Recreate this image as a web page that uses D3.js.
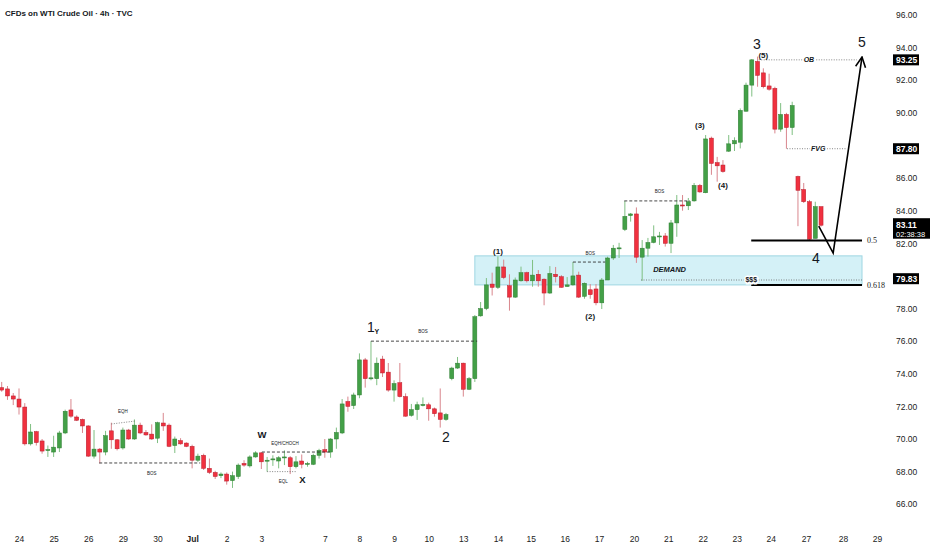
<!DOCTYPE html>
<html>
<head>
<meta charset="utf-8">
<script src="https://cdn.jsdelivr.net/npm/d3@7"></script>
<style>
  body { margin: 0; background: #fff; }
  svg { display: block; font-family: "Liberation Sans", Arial, sans-serif; }
</style>
</head>
<body>
<div id="chart"></div>
<script>
// 4h candles
var opens = [73.15,73.07,72.64,72.45,71.96,69.7,70.45,69.88,69.3,69.2,
  69.45,70.37,71.78,71.35,71.2,70.8,68.95,69.38,69.2,70.5,
  69.95,69.45,70.55,70.0,70.85,70.4,70.3,70.05,70.98,70.85,
  69.6,69.9,69.75,69.55,68.7,69.0,68.2,67.95,67.75,67.85,
  67.45,67.7,68.5,68.35,68.9,69.15,68.65,68.72,68.65,68.85,
  68.85,68.3,68.65,68.45,68.45,69.0,69.35,69.2,70.0,70.37,
  72.3,72.05,72.7,74.85,73.7,73.7,74.9,74.1,73.0,73.45,
  72.6,71.45,71.8,72.05,72.1,71.85,71.6,71.2,73.7,74.35,
  74.65,73.05,73.7,77.55,78.0,79.5,79.3,80.55,79.4,78.7,
  79.7,80.2,79.7,80.1,79.8,78.95,80.1,79.95,79.35,79.45,
  80.05,78.75,79.15,79.2,78.35,79.75,81.1,81.7,82.85,83.7,
  83.8,81.15,81.7,82.05,82.4,82.45,82.0,83.25,84.35,84.3,
  84.6,85.55,85.1,88.45,86.95,86.8,87.65,88.1,88.2,90.1,
  91.7,93.15,92.45,91.65,91.5,89.0,89.9,89.1,86.1,85.3,
  84.55,82.3,84.25];
var highs = [73.5,73.25,72.82,73.1,72.2,70.92,70.5,70.0,69.6,70.2,
  70.5,71.8,72.45,71.45,71.25,70.85,70.55,69.45,70.5,71.0,
  70.0,70.7,70.62,71.2,71.0,70.55,70.9,71.06,71.6,70.95,
  70.15,70.05,69.8,69.65,69.1,69.1,68.8,68.05,67.95,67.95,
  68.0,68.5,68.7,69.0,69.25,69.2,68.9,69.0,68.95,69.3,
  68.95,68.95,69.05,68.6,69.1,69.4,70.0,70.05,70.7,72.45,
  72.6,72.84,75.25,74.97,76.0,75.0,75.1,74.66,73.6,74.66,
  72.8,72.15,72.29,72.55,72.23,71.93,73.1,71.6,74.43,75.03,
  74.68,73.8,77.6,78.4,79.87,80.2,81.2,81.0,80.1,79.9,
  80.57,80.26,80.98,80.36,79.85,80.6,80.55,80.05,79.93,80.85,
  80.26,79.6,79.5,79.5,79.87,81.18,81.9,82.03,84.6,83.86,
  84.2,82.2,82.33,83.1,82.7,82.63,83.43,84.96,84.96,84.78,
  85.7,85.64,88.64,88.54,87.3,87.1,88.64,88.5,90.27,91.85,
  93.3,93.45,92.73,92.4,91.6,90.6,90.0,90.68,86.15,85.7,
  84.66,84.55,84.24];
var lows = [72.9,72.4,72.08,71.5,69.6,69.6,69.6,69.1,68.9,68.9,
  69.2,70.3,71.3,71.1,70.37,68.9,68.8,68.5,69.0,69.4,
  69.3,69.35,69.95,69.95,70.3,70.2,69.95,69.75,70.5,69.5,
  69.14,69.65,69.5,68.2,68.6,68.1,67.85,67.55,67.6,67.2,
  67.0,67.55,68.3,68.25,68.85,68.16,68.0,68.35,68.2,68.4,
  67.85,68.2,68.2,68.3,68.4,68.8,68.85,68.85,69.4,70.3,
  71.67,71.84,72.5,73.15,73.6,73.3,73.8,72.9,72.29,72.55,
  71.37,71.37,71.17,72.0,71.12,71.37,70.7,71.12,73.6,74.3,
  72.6,73.0,73.5,77.5,77.9,78.8,79.2,79.8,77.87,78.65,
  79.65,79.6,79.34,79.34,78.2,78.9,79.6,79.28,79.34,79.4,
  78.65,78.6,78.6,78.2,77.97,79.75,80.98,81.1,82.75,83.33,
  80.8,79.7,81.18,82.0,81.9,81.8,81.4,82.4,84.0,84.04,
  84.55,85.1,85.07,86.2,85.78,86.33,87.6,87.66,87.82,90.07,
  91.0,91.6,91.5,91.36,88.74,88.84,87.8,88.64,83.05,84.47,
  82.16,82.3,83.02];
var closes = [73.0,72.64,72.45,71.96,69.7,70.43,69.78,69.26,69.35,69.5,
  70.37,71.7,71.4,71.15,70.8,68.95,69.38,69.2,70.2,69.95,
  69.4,70.55,70.0,70.85,70.37,70.25,70.0,71.0,70.8,69.55,
  70.0,69.7,69.55,68.7,68.95,68.2,67.95,67.7,67.85,67.42,
  67.75,68.4,68.4,68.9,69.15,68.6,68.7,68.78,68.85,68.9,
  68.3,68.6,68.45,68.5,69.0,69.3,69.2,70.0,70.4,72.15,
  72.0,72.7,74.85,73.7,73.75,74.65,74.05,73.0,73.4,72.6,
  71.4,71.8,72.1,72.12,71.85,71.55,71.2,71.5,74.35,74.65,
  73.05,73.7,77.5,78.0,79.45,79.3,80.55,79.9,78.7,79.75,
  80.2,79.7,80.05,79.7,78.95,80.15,79.95,79.3,79.45,80.0,
  78.7,79.55,78.85,78.35,79.75,81.1,81.7,81.72,83.65,83.8,
  81.15,81.7,82.05,82.4,82.45,82.0,83.25,84.35,84.3,84.55,
  85.55,85.15,88.4,86.9,86.75,86.4,88.1,88.3,90.15,91.7,
  93.25,92.3,91.6,91.45,89.0,89.9,89.1,90.45,85.25,84.55,
  82.25,84.25,83.11];

// day labels and the candle index they sit on
var dayLabels = ["24","25","26","29","30","Jul","2","3","7","8","9","10","13",
  "14","15","16","17","20","21","22","23","24","27","28","29"];
var dayIdx = [3,9,15,21,27,33,39,45,56,62,68,74,80,86,91.7,97.6,103.5,109.6,
  115.5,121.5,127.4,133.3,139.4,145.8,151.7];

var priceTicks = d3.range(66, 97, 2);
var markedPrices = [93.25, 87.80, 79.83];
var lastPrice = 83.11;
var countdown = "02:38:38";

// drawings, in candle index / price
var dashedLines = [
  {i0: 16.9, i1: 34.4, p: 68.53},
  {i0: 45.1, i1: 56.9, p: 69.2},
  {i0: 64, i1: 82.4, p: 76.0},
  {i0: 99, i1: 104.6, p: 80.85},
  {i0: 107.9, i1: 119.3, p: 84.6}
];
var dottedLines = [
  {i0: 19.0, p0: 70.92, i1: 23.1, p1: 71.1},
  {i0: 46.0, p0: 68.0, i1: 51.0, p1: 68.0},
  {i0: 110.8, p0: 79.75, i1: 149.1, p1: 79.75},
  {i0: 131.2, p0: 93.25, i1: 148.2, p1: 93.25},
  {i0: 136.1, p0: 87.8, i1: 146.5, p1: 87.8}
];
var tinyNotes = [
  {t: "EQH", i: 21.0, p: 71.72},
  {t: "BOS", i: 26.0, p: 67.9},
  {t: "EQH/CHOCH", i: 49.1, p: 69.75},
  {t: "EQL", i: 48.8, p: 67.42},
  {t: "BOS", i: 73.0, p: 76.62},
  {t: "BOS", i: 102.0, p: 81.4},
  {t: "BOS", i: 114.0, p: 85.2}
];
var italicNotes = [
  {t: "OB", i: 139.9, p: 93.25},
  {t: "FVG", i: 141.5, p: 87.8}
];
var waveBig = [
  {t: "1", i: 64.0, p: 76.87},
  {t: "2", i: 77.0, p: 70.12},
  {t: "3", i: 130.9, p: 94.2},
  {t: "4", i: 141.1, p: 81.1},
  {t: "5", i: 149.1, p: 94.34}
];
var waveSmall = [
  {t: "(1)", i: 86.0, p: 81.5},
  {t: "(2)", i: 102.0, p: 77.54},
  {t: "(3)", i: 121.0, p: 89.25},
  {t: "(4)", i: 125.0, p: 85.57},
  {t: "(5)", i: 132.0, p: 93.54}
];
var letters = [
  {t: "W", i: 45.1, p: 70.25},
  {t: "X", i: 52.1, p: 67.5}
];
var demandZone = {i0: 82.0, i1: 149.1, top: 81.23, bottom: 79.45};
var fibLevels = [{p: 82.17, t: "0.5"}, {p: 79.44, t: "0.618"}];
var fibSpan = [129.9, 149.1];
var projection = [[141.6, 83.06], [144.1, 81.4], [149.1, 93.42]];

var width = 932, height = 550;
var green = "#43a047", red = "#f0313f";

var svg = d3.select("#chart").append("svg")
  .attr("width", width)
  .attr("height", height);

var x = d3.scaleLinear().domain([0, 142]).range([1.7, 1.7 + 5.77 * 142]);
var y = d3.scaleLinear().domain([70, 96]).range([439, 15]);

svg.append("text")
  .attr("x", 5).attr("y", 16)
  .attr("font-size", 8).attr("font-weight", 600)
  .attr("fill", "#131722")
  .text("CFDs on WTI Crude Oil \u00b7 4h \u00b7 TVC");

// demand zone
svg.append("rect")
  .attr("x", x(demandZone.i0))
  .attr("y", y(demandZone.top))
  .attr("width", x(demandZone.i1) - x(demandZone.i0))
  .attr("height", y(demandZone.bottom) - y(demandZone.top))
  .attr("fill", "#c9eef5").attr("fill-opacity", 0.8)
  .attr("stroke", "#9fd6e2").attr("stroke-width", 1);

// candles
var candles = d3.range(opens.length).map(i => ({
  i: i, o: opens[i], h: highs[i], l: lows[i], c: closes[i]
}));

svg.append("g").selectAll("line")
  .data(candles).enter().append("line")
  .attr("x1", d => x(d.i)).attr("x2", d => x(d.i))
  .attr("y1", d => y(d.h)).attr("y2", d => y(d.l))
  .attr("stroke", d => d.c >= d.o ? "#7fbf82" : "#d9868d")
  .attr("stroke-width", 1);

svg.append("g").selectAll("rect")
  .data(candles).enter().append("rect")
  .attr("x", d => x(d.i) - 2)
  .attr("width", 4)
  .attr("y", d => y(Math.max(d.o, d.c)))
  .attr("height", d => Math.max(1, Math.abs(y(d.o) - y(d.c))))
  .attr("fill", d => d.c >= d.o ? green : red)
  .attr("stroke", d => d.c >= d.o ? "#2e7d32" : "#b71c2c")
  .attr("stroke-width", 0.5);

// drawings
var gd = svg.append("g");
gd.selectAll(".dash").data(dashedLines).enter().append("line")
  .attr("x1", d => x(d.i0)).attr("x2", d => x(d.i1))
  .attr("y1", d => y(d.p)).attr("y2", d => y(d.p))
  .attr("stroke", "#333").attr("stroke-width", 0.9)
  .attr("stroke-dasharray", "3,2");

gd.selectAll(".dot").data(dottedLines).enter().append("line")
  .attr("x1", d => x(d.i0)).attr("x2", d => x(d.i1))
  .attr("y1", d => y(d.p0)).attr("y2", d => y(d.p1))
  .attr("stroke", "#666").attr("stroke-width", 0.8)
  .attr("stroke-dasharray", "1,1.5");

gd.selectAll(".fib").data(fibLevels).enter().append("line")
  .attr("x1", x(fibSpan[0])).attr("x2", x(fibSpan[1]))
  .attr("y1", d => y(d.p)).attr("y2", d => y(d.p))
  .attr("stroke", "#000").attr("stroke-width", 2);

gd.selectAll(".fibt").data(fibLevels).enter().append("text")
  .attr("x", x(fibSpan[1]) + 5).attr("y", d => y(d.p))
  .attr("dy", "0.35em")
  .attr("font-family", "'Liberation Serif', serif")
  .attr("font-size", 8).attr("fill", "#222")
  .text(d => d.t);

function addTexts(data, size, weight, style, halo) {
  gd.append("g").selectAll("text").data(data).enter().append("text")
    .attr("x", d => x(d.i)).attr("y", d => y(d.p))
    .attr("dy", "0.35em")
    .attr("text-anchor", "middle")
    .attr("font-size", size).attr("font-weight", weight)
    .attr("font-style", style)
    .attr("fill", "#131722")
    .attr("stroke", halo ? "#fff" : "none")
    .attr("stroke-width", halo ? 3 : 0)
    .attr("paint-order", "stroke")
    .text(d => d.t);
}
addTexts(tinyNotes, 4.5, 400, "normal", false);
addTexts(italicNotes, 7, 700, "italic", true);
addTexts([{t: "$$$", i: 129.9, p: 79.75}], 7, 700, "normal", true);
addTexts(waveBig, 14, 400, "normal", false);
addTexts([{t: "Y", i: 65.0, p: 76.6}], 7, 600, "normal", false);
addTexts(waveSmall, 8, 600, "normal", false);
addTexts(letters, 9.5, 700, "normal", false);

gd.append("text")
  .attr("x", x(112.9)).attr("y", y(80.42)).attr("dy", "0.35em")
  .attr("font-size", 7.5).attr("font-weight", 700).attr("font-style", "italic")
  .attr("fill", "#131722")
  .text("DEMAND");

// projected path with arrow head
svg.append("defs").append("marker")
  .attr("id", "head")
  .attr("viewBox", "0 0 12 12")
  .attr("refX", 11).attr("refY", 6)
  .attr("markerWidth", 12).attr("markerHeight", 12)
  .attr("markerUnits", "userSpaceOnUse")
  .attr("orient", "auto")
  .append("path")
  .attr("d", "M1,1 L11,6 L1,11")
  .attr("fill", "none").attr("stroke", "#000").attr("stroke-width", 1.6);

svg.append("path")
  .datum(projection)
  .attr("d", d3.line().x(d => x(d[0])).y(d => y(d[1])))
  .attr("fill", "none").attr("stroke", "#000").attr("stroke-width", 1.6)
  .attr("marker-end", "url(#head)");

// price axis; labels under the price boxes are hidden like on the platform
var shownTicks = priceTicks.filter(t =>
  markedPrices.every(m => Math.abs(y(t) - y(m)) > 9));
var yAxis = svg.append("g")
  .attr("transform", "translate(893,0)")
  .call(d3.axisRight(y).tickValues(shownTicks).tickFormat(d3.format(".2f"))
    .tickSize(0).tickPadding(3));
yAxis.select(".domain").remove();
yAxis.selectAll("text")
  .attr("font-size", 8.5).attr("fill", "#222")
  .attr("font-family", "'Liberation Sans', Arial, sans-serif");

var boxes = svg.append("g");
boxes.selectAll("rect").data(markedPrices).enter().append("rect")
  .attr("x", 893).attr("width", 26)
  .attr("y", d => y(d) - 5.5).attr("height", 11)
  .attr("fill", "#000");
boxes.selectAll("text").data(markedPrices).enter().append("text")
  .attr("x", 896).attr("y", d => y(d)).attr("dy", "0.35em")
  .attr("font-size", 8.5).attr("font-weight", 700).attr("fill", "#fff")
  .text(d => d3.format(".2f")(d));

boxes.append("rect")
  .attr("x", 893).attr("width", 37)
  .attr("y", y(lastPrice) - 7).attr("height", 20.5)
  .attr("fill", "#000");
boxes.append("text")
  .attr("x", 896).attr("y", y(lastPrice)).attr("dy", "0.35em")
  .attr("font-size", 8.5).attr("font-weight", 700).attr("fill", "#fff")
  .text(d3.format(".2f")(lastPrice));
boxes.append("text")
  .attr("x", 896).attr("y", y(lastPrice) + 9.5).attr("dy", "0.35em")
  .attr("font-size", 7.5).attr("fill", "#fff")
  .text(countdown);

// time axis
var xAxis = svg.append("g")
  .attr("transform", "translate(0,533)")
  .call(d3.axisBottom(x).tickValues(dayIdx)
    .tickFormat((d, k) => dayLabels[k]).tickSize(0).tickPadding(3));
xAxis.select(".domain").remove();
xAxis.selectAll("text")
  .attr("font-size", 8.5).attr("fill", "#222")
  .attr("font-family", "'Liberation Sans', Arial, sans-serif")
  .attr("font-weight", (d, k) => dayLabels[k] === "Jul" ? 700 : 400);
</script>
</body>
</html>
